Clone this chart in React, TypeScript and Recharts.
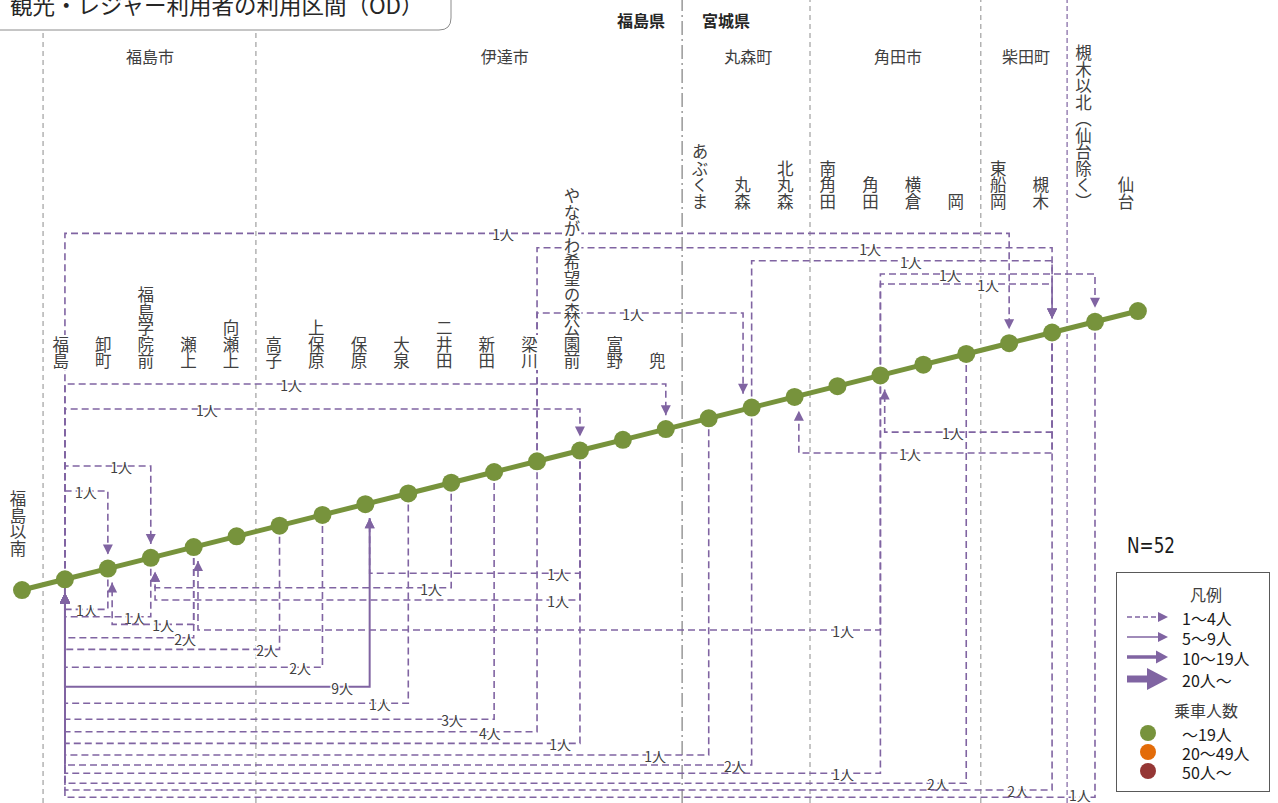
import React from "react";
import { ScatterChart, Scatter, XAxis, YAxis, ReferenceLine } from "recharts";

const W = 1278;
const H = 803;

const PURPLE = "#8064a2";
const GREEN = "#77933c";
const ORANGE = "#e36c09";
const DARKRED = "#953735";
const GRID = "#8c8c8c";
const INK = "#404040";
const FONT = "'Noto Sans CJK JP', 'Noto Sans', sans-serif";

// axis windows in station units (x = station number, y = rise of the line)
const X_DOMAIN: [number, number] = [-0.513, 29.264];
const Y_DOMAIN: [number, number] = [-19.85, 54.99];

// stations, south -> north
const stations = [
  "福島以南", "福島", "卸町", "福島学院前", "瀬上", "向瀬上", "高子", "上保原", "保原",
  "大泉", "二井田", "新田", "梁川", "やながわ希望の森公園前", "富野", "兜", "あぶくま",
  "丸森", "北丸森", "南角田", "角田", "横倉", "岡", "東船岡", "槻木",
  "槻木以北（仙台除く）", "仙台",
];

const HUB = "福島";

// bottom edge of the vertical station names
const LABEL_LOW = 3.08;
const LABEL_MID = 20.6;
const LABEL_HIGH = 35.46;

// area dividers
const cityBorders = [0.49, 5.45, 18.36, 22.34];
const prefBorder = 15.38;
const northBorder = 24.35;

const cities = ["福島市", "伊達市", "丸森町", "角田市", "柴田町"];
const cityLabelX = [2.98, 11.25, 16.92, 20.41, 23.39];
const prefectures = ["福島県", "宮城県"];
const prefLabelX = [14.42, 16.4];
const CITY_ROW = 49.81;
const PREF_ROW = 53.12;

// [origin, destination, persons, lane, label position]
type Flow = [string, string, number, number, number];

// trips routed above the line
const flowsAbove: Flow[] = [
  ["福島", "東船岡", 1, 33.24, 11.21],
  ["梁川", "槻木", 1, 31.9, 19.76],
  ["丸森", "槻木", 1, 30.69, 20.71],
  ["角田", "槻木以北（仙台除く）", 1, 29.45, 21.62],
  ["角田", "槻木", 1, 28.52, 22.51],
  ["梁川", "丸森", 1, 25.82, 14.24],
  ["福島", "兜", 1, 19.2, 6.27],
  ["福島", "やながわ希望の森公園前", 1, 16.87, 4.31],
  ["福島", "福島学院前", 1, 11.56, 2.31],
  ["福島", "卸町", 1, 9.23, 1.49],
];

// trips routed below the line
const flowsBelow: Flow[] = [
  ["槻木", "角田", 1, 14.72, 21.69],
  ["槻木", "北丸森", 1, 12.77, 20.69],
  ["やながわ希望の森公園前", "保原", 1, 1.56, 12.49],
  ["二井田", "福島学院前", 1, 0.21, 9.53],
  ["やながわ希望の森公園前", "福島学院前", 1, -0.93, 12.49],
  ["卸町", "福島", 1, -1.8, 1.51],
  ["福島学院前", "福島", 1, -2.49, 2.63],
  ["瀬上", "卸町", 1, -3.2, 3.29],
  ["角田", "瀬上", 1, -3.73, 19.13],
  ["瀬上", "福島", 2, -4.45, 3.8],
  ["高子", "福島", 2, -5.53, 5.71],
  ["上保原", "福島", 2, -7.2, 6.48],
  ["福島", "保原", 9, -9.01, 7.46],
  ["大泉", "福島", 1, -10.56, 8.34],
  ["新田", "福島", 3, -12.05, 10.02],
  ["梁川", "福島", 4, -13.21, 10.9],
  ["やながわ希望の森公園前", "福島", 1, -14.29, 12.54],
  ["あぶくま", "福島", 1, -15.38, 14.75],
  ["丸森", "福島", 2, -16.31, 16.61],
  ["角田", "福島", 1, -17.08, 19.13],
  ["岡", "福島", 2, -18.01, 21.34],
  ["槻木", "福島", 2, -18.64, 23.21],
  ["槻木以北（仙台除く）", "福島", 1, -19.32, 24.65],
];

const allFlows = [...flowsAbove, ...flowsBelow];
const idx = (name: string) => stations.indexOf(name);
const ARROW_GAP = 1.3;

function flowPoints(f: Flow) {
  const [from, to, persons, lane, labelAt] = f;
  const a = idx(from);
  const b = idx(to);
  const fromAbove = lane > b;
  let arrX = b;
  if (fromAbove) {
    const busyTop = allFlows.some((g) => g[0] === to && g[3] > idx(g[0]));
    if (busyTop) arrX = b - 0.2;
  } else if (to !== HUB) {
    arrX = b + 0.1;
  }
  return [
    { x: a, y: a },
    { x: a, y: lane },
    { x: labelAt, y: lane, kind: "label", text: `${persons}人` },
    { x: arrX, y: lane },
    { x: arrX, y: fromAbove ? b + ARROW_GAP : b - ARROW_GAP, kind: fromAbove ? "down" : "up" },
  ];
}

const FlowMark = (p: any) => {
  const { cx, cy, payload } = p;
  if (payload.kind === "label") {
    // keep the lowest labels inside the picture
    const ty = Math.min(cy + 1, H - 8);
    return (
      <text x={cx} y={ty} textAnchor="middle" dominantBaseline="central" fontSize={14}
        fill={INK} stroke="#fff" strokeWidth={3} paintOrder="stroke" fontFamily={FONT}>
        {payload.text}
      </text>
    );
  }
  if (payload.kind === "up") {
    return <polygon points={`${cx},${cy} ${cx - 5},${cy + 10} ${cx + 5},${cy + 10}`} fill={PURPLE} />;
  }
  if (payload.kind === "down") {
    return <polygon points={`${cx},${cy} ${cx - 5},${cy - 10} ${cx + 5},${cy - 10}`} fill={PURPLE} />;
  }
  return <g />;
};

const StationDot = (p: any) => <circle cx={p.cx} cy={p.cy} r={9} fill={GREEN} />;

const StationLabel = (p: any) => {
  const { cx, cy, payload } = p;
  const fs = 16.5;
  const n = [...payload.name].length;
  const x = cx - 4 - 0.3 * payload.x;
  return (
    <g>
      <rect x={x - fs / 2 - 1} y={cy - n * fs - 1} width={fs + 2} height={n * fs + 2} fill="#fff" />
      <text x={x} y={cy} textAnchor="end" fontSize={fs} fill={INK} fontFamily={FONT}
        style={{ writingMode: "vertical-rl" }}>
        {payload.name}
      </text>
    </g>
  );
};

const AreaLabel = (p: any) => (
  <text x={p.cx} y={p.cy} textAnchor="middle" dominantBaseline="central"
    fontSize={16} fontWeight={p.payload.bold ? 700 : 400}
    fill={p.payload.bold ? "#262626" : INK} fontFamily={FONT}>
    {p.payload.name}
  </text>
);

const stationPts = stations.map((name, i) => ({ x: i, y: i, name }));
const stationLabelPts = stations.map((name, i) => ({
  x: i,
  y: i === 0 ? LABEL_LOW : i <= idx("兜") ? LABEL_MID : LABEL_HIGH,
  name,
}));
const areaPts = [
  ...cities.map((name, k) => ({ x: cityLabelX[k], y: CITY_ROW, name, bold: false })),
  ...prefectures.map((name, k) => ({ x: prefLabelX[k], y: PREF_ROW, name, bold: true })),
];

function Legend() {
  const rows = [
    { label: "1～4人", w: 1.5, dash: "5 3", base: 58, half: 5 },
    { label: "5～9人", w: 1.5, dash: undefined, base: 58, half: 5 },
    { label: "10～19人", w: 3.5, dash: undefined, base: 56, half: 6.5 },
    { label: "20人～", w: 7, dash: undefined, base: 47, half: 11 },
  ];
  const riders = [
    { label: "～19人", color: GREEN },
    { label: "20～49人", color: ORANGE },
    { label: "50人～", color: DARKRED },
  ];
  return (
    <svg width={178} height={283} style={{ position: "absolute", left: 1100, top: 520 }}>
      <text x={27} y={33} fontSize={22} fill="#1a1a1a" textLength={48} lengthAdjust="spacingAndGlyphs"
        fontFamily="'Liberation Sans Narrow', 'DejaVu Sans Condensed', sans-serif">N=52</text>
      <rect x={16.5} y={52.5} width={153} height={219} fill="#fff" stroke="#595959" />
      <text x={106} y={74} textAnchor="middle" dominantBaseline="central" fontSize={16} fill={INK} fontFamily={FONT}>凡例</text>
      {rows.map((r, k) => {
        const y = 97 + k * 20 + (k === 3 ? 2 : 0);
        return (
          <g key={r.label}>
            <line x1={27} x2={r.base + 1} y1={y} y2={y} stroke={PURPLE} strokeWidth={r.w} strokeDasharray={r.dash} />
            <polygon points={`68,${y} ${r.base},${y - r.half} ${r.base},${y + r.half}`} fill={PURPLE} />
            <text x={82} y={y + 1} dominantBaseline="central" fontSize={16} fill="#1a1a1a" fontFamily={FONT}>{r.label}</text>
          </g>
        );
      })}
      <text x={106} y={190} textAnchor="middle" dominantBaseline="central" fontSize={16} fill={INK} fontFamily={FONT}>乗車人数</text>
      {riders.map((r, k) => (
        <g key={r.label}>
          <circle cx={48} cy={213 + k * 19} r={8} fill={r.color} />
          <text x={82} y={214 + k * 19} dominantBaseline="central" fontSize={16} fill="#1a1a1a" fontFamily={FONT}>{r.label}</text>
        </g>
      ))}
    </svg>
  );
}

function TitleBox() {
  return (
    <svg width={470} height={40} style={{ position: "absolute", left: 0, top: 0 }}>
      <path d="M-2,-2 H451 V18 Q451,30 439,30 H-2 Z" fill="#fff" stroke="#8c8c8c" strokeWidth={1} />
      <text x={10} y={14} fontSize={22.5} fill="#262626" fontFamily={FONT}>観光・レジャー利用者の利用区間（OD）</text>
    </svg>
  );
}

export default function App() {
  return (
    <div style={{ position: "absolute", left: 0, top: 0, width: W, height: H, background: "#fff", overflow: "hidden" }}>
      <ScatterChart width={W} height={H} margin={{ top: 0, right: 0, bottom: 0, left: 0 }}>
        <XAxis type="number" dataKey="x" domain={X_DOMAIN} allowDataOverflow hide />
        <YAxis type="number" dataKey="y" domain={Y_DOMAIN} allowDataOverflow hide />
        {cityBorders.map((x) => (
          <ReferenceLine key={x} x={x} stroke={GRID} strokeWidth={1} strokeDasharray="5 4" />
        ))}
        <ReferenceLine x={prefBorder} stroke="#7f7f7f" strokeWidth={1.2} strokeDasharray="14 4 2 4" />
        <ReferenceLine x={northBorder} stroke={PURPLE} strokeWidth={1.2} strokeDasharray="5 3" />
        {allFlows.map((f, k) => (
          <Scatter
            key={k}
            data={flowPoints(f)}
            fill={PURPLE}
            line={
              f[2] >= 5
                ? { stroke: PURPLE, strokeWidth: 2 }
                : { stroke: PURPLE, strokeWidth: 1.6, strokeDasharray: "7 4" }
            }
            lineType="joint"
            shape={FlowMark}
            isAnimationActive={false}
          />
        ))}
        <Scatter data={stationLabelPts} shape={StationLabel} isAnimationActive={false} />
        <Scatter data={areaPts} shape={AreaLabel} isAnimationActive={false} />
        <Scatter
          data={stationPts}
          fill={GREEN}
          line={{ stroke: GREEN, strokeWidth: 5 }}
          lineType="joint"
          shape={StationDot}
          isAnimationActive={false}
        />
      </ScatterChart>
      <TitleBox />
      <Legend />
    </div>
  );
}
